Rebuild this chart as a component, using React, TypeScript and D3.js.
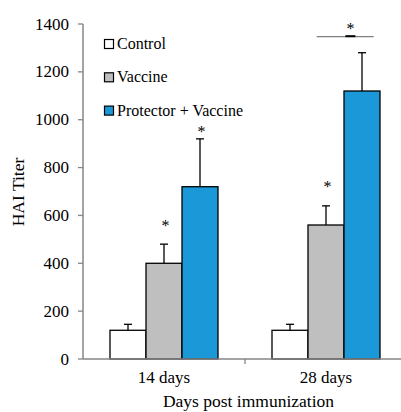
import React from "react";
import * as d3 from "d3";

const categories = ["14 days", "28 days"];
const seriesNames = ["Control", "Vaccine", "Protector + Vaccine"];
const seriesColors = ["#ffffff", "#bfbfbf", "#1b98d7"];
const means = [
  [120, 400, 720],
  [120, 560, 1120],
];
const errors = [
  [25, 80, 200],
  [25, 80, 160],
];
// star heights (value units) above bars; null = no star
const starLevels = [
  [null, 570, 966],
  [null, 735, null],
];
const bracketLevel = 1347;
const bracketStarLevel = 1396;
const yTicks = [0, 200, 400, 600, 800, 1000, 1200, 1400];

export default function App() {
  const W = 401, H = 412;
  const x0 = 83, yTop = 24, yBot = 359;
  const y = d3.scaleLinear().domain([0, 1400]).range([yBot, yTop]);
  const xBand = d3.scaleBand().domain(categories).range([x0, x0 + 324]).paddingInner(0).paddingOuter(0);
  const inner = d3.scaleBand().domain(seriesNames).range([0, 108]);
  const fam = "Liberation Serif, Times New Roman, Times, serif";
  const axisF = { fontFamily: fam, fontSize: "17px" } as React.CSSProperties;
  const titleF = { fontFamily: fam, fontSize: "17.5px" } as React.CSSProperties;
  const legF = { fontFamily: fam, fontSize: "16px" } as React.CSSProperties;
  const starF = { fontFamily: fam, fontSize: "16px" } as React.CSSProperties;

  const bars: React.ReactNode[] = [];
  categories.forEach((c, ci) => {
    const center = (xBand(c) as number) + xBand.bandwidth() / 2;
    const gx = center - 54;
    seriesNames.forEach((s, si) => {
      const bx = gx + (inner(s) as number);
      const bw = inner.bandwidth();
      const v = means[ci][si];
      const e = errors[ci][si];
      const cx = bx + bw / 2;
      const sl = starLevels[ci][si];
      bars.push(
        <g key={`${ci}-${si}`}>
          <line x1={cx} x2={cx} y1={y(v)} y2={y(v + e)} stroke="#000" strokeWidth={1.3} />
          <line x1={cx - 4} x2={cx + 4} y1={y(v + e)} y2={y(v + e)} stroke="#000" strokeWidth={1.3} />
          <rect x={bx} y={y(v)} width={bw} height={yBot - y(v)} fill={seriesColors[si]} stroke="#000" strokeWidth={1.3} />
          {sl !== null && (
            <text x={cx + 1.5} y={y(sl) + 8.7} style={starF} textAnchor="middle" fill="#000">*</text>
          )}
        </g>
      );
    });
  });

  const c2 = (xBand(categories[1]) as number) + xBand.bandwidth() / 2;
  const bracketY = y(bracketLevel);

  return (
    <svg width={W} height={H} style={{ position: "absolute", left: 0, top: 0, background: "#fff" }}>
      <rect x={0} y={0} width={W} height={H} fill="#fff" />
      {bars}
      <line x1={x0} x2={x0} y1={yTop} y2={yBot} stroke="#868686" strokeWidth={1.5} />
      {yTicks.map((t) => (
        <g key={t}>
          <line x1={x0 - 5} x2={x0} y1={y(t)} y2={y(t)} stroke="#868686" strokeWidth={1.3} />
          <text x={69} y={y(t) + 5.5} style={axisF} textAnchor="end" fill="#000">{t}</text>
        </g>
      ))}
      <line x1={x0} x2={W} y1={yBot} y2={yBot} stroke="#868686" strokeWidth={1.5} />
      <line x1={x0 + xBand.bandwidth()} x2={x0 + xBand.bandwidth()} y1={yBot} y2={yBot + 5} stroke="#868686" strokeWidth={1.3} />
      {categories.map((c) => (
        <text key={c} x={(xBand(c) as number) + xBand.bandwidth() / 2} y={382.5} style={axisF} textAnchor="middle" fill="#000">{c}</text>
      ))}
      <text x={248.5} y={406.5} style={titleF} textAnchor="middle" fill="#000">Days post immunization</text>
      <text transform={`translate(23.5,192) rotate(-90)`} style={titleF} textAnchor="middle" fill="#000">HAI Titer</text>
      {seriesNames.map((s, i) => (
        <g key={s}>
          <rect x={104.5} y={39.5 + i * 33.3} width={9} height={9} fill={seriesColors[i]} stroke="#000" strokeWidth={1.2} />
          <text x={117} y={49 + i * 33.3} style={legF} fill="#000">{s}</text>
        </g>
      ))}
      <line x1={c2 - 9.3} x2={c2 + 47.7} y1={bracketY} y2={bracketY} stroke="#7f7f7f" strokeWidth={1.3} />
      <line x1={c2 + 19.4} x2={c2 + 29.4} y1={bracketY - 0.5} y2={bracketY - 0.5} stroke="#000" strokeWidth={2} />
      <text x={c2 + 24.4} y={y(bracketStarLevel) + 8.7} style={starF} textAnchor="middle" fill="#000">*</text>
    </svg>
  );
}
